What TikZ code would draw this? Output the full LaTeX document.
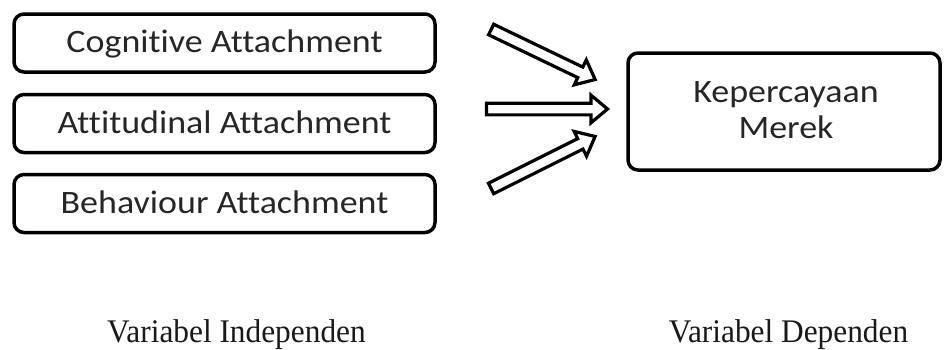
\documentclass[tikz,border=0pt]{standalone}
\usepackage{fontspec}
\setmainfont{Liberation Serif}[FakeStretch=0.95]
\newfontfamily\boxfont[FakeStretch=1.1, Ligatures=NoCommon]{Carlito}
\usetikzlibrary{shapes.arrows,calc}

\tikzset{
  varbox/.style={draw=black, line width=3.5pt, rounded corners=10pt,
    rectangle, inner sep=0pt, minimum width=421pt, minimum height=58pt,
    text=black!85, font=\boxfont\fontsize{32.7}{36}\selectfont,
    text height=25pt, text depth=6pt},
  depbox/.style={draw=black, line width=3.5pt, rounded corners=10pt,
    rectangle, inner sep=0pt, minimum width=312pt, minimum height=117pt},
  boxtext/.style={anchor=base, inner sep=0pt, text=black!85,
    font=\boxfont\fontsize{32.7}{36}\selectfont},
  caption/.style={anchor=base, inner sep=0pt, text=black!90,
    font=\fontsize{33}{36}\selectfont},
  fatarrow/.style={single arrow, draw=black, fill=white, line width=3.2pt,
    inner xsep=0pt, inner ysep=4.25pt, single arrow head extend=8pt,
    single arrow tip angle=80, sloped}
}

\begin{document}
\begin{tikzpicture}[x=1pt, y=-1pt]
  \useasboundingbox (0,0) rectangle (944,349);

  % independent variables
  \node[varbox] (cog) at (224.5,43)    {Cognitive Attachment};
  \node[varbox] (att) at (224.5,123.5) {Attitudinal Attachment};
  \node[varbox] (beh) at (224.5,203.5) {Behaviour Attachment};

  % dependent variable
  \node[depbox] (trust) at (784,111.5) {};
  \node[boxtext] (trust1) at (786,102) {Kepercayaan};
  \node[boxtext] (trust2) at (786,138) {Merek};

  % arrow ends
  \coordinate (s1) at (488,28);  \coordinate (e1) at (592,78);
  \coordinate (s2) at (483,109); \coordinate (e2) at (604,109);
  \coordinate (s3) at (488,190); \coordinate (e3) at (592,138);

  % hollow block arrows
  \foreach \s/\e in {s1/e1, s2/e2, s3/e3}{
    \path let \p1 = ($(\e)-(\s)$), \n1 = {veclen(\x1,\y1)} in
      (\s) -- node[fatarrow, minimum height=\n1] {} (\e);
  }

  % captions
  \node[caption] (indep) at (236.5,342) {Variabel Independen};
  \node[caption] (dep)   at (788.5,342) {Variabel Dependen};
\end{tikzpicture}
\end{document}
